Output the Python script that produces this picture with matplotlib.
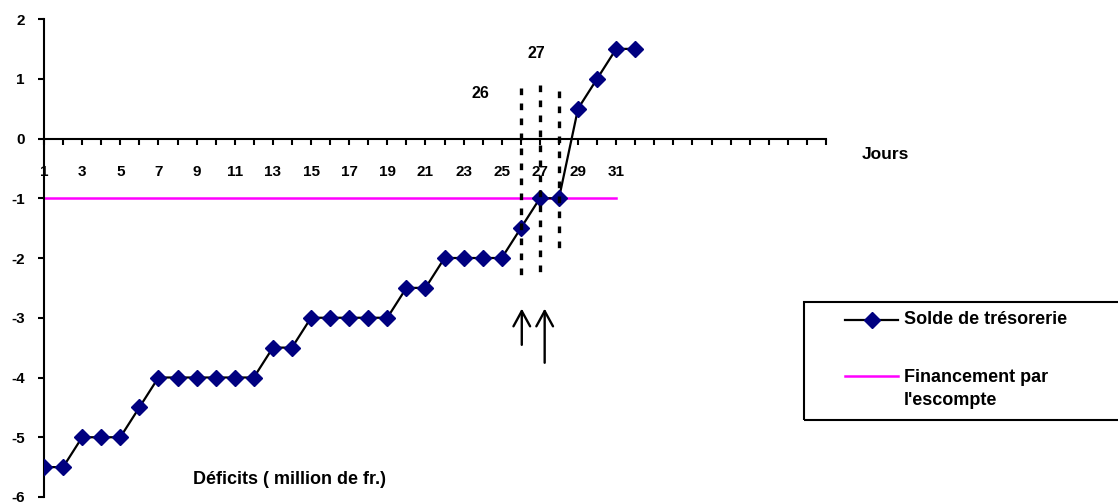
import matplotlib
matplotlib.use('Agg')
import matplotlib.pyplot as plt
from matplotlib.lines import Line2D
from matplotlib.patches import Rectangle

plt.rcParams['font.family'] = ['Liberation Sans', 'DejaVu Sans']
plt.rcParams['font.weight'] = 'bold'
plt.rcParams['axes.unicode_minus'] = False

# Data
days = list(range(1, 33))
solde = [-5.5, -5.5, -5, -5, -5, -4.5, -4, -4, -4, -4, -4, -4, -3.5, -3.5,
         -3, -3, -3, -3, -3, -2.5, -2.5, -2, -2, -2, -2, -1.5, -1, -1,
         0.5, 1, 1.5, 1.5]
fin_days = list(range(1, 32))
financement = [-1] * 31
x_ticks = list(range(1, 43))
x_labels = [str(d) if (d % 2 == 1 and d <= 31) else '' for d in x_ticks]
y_ticks = [-6, -5, -4, -3, -2, -1, 0, 1, 2]
series_names = ['Solde de trésorerie', "Financement par\nl'escompte"]

W, H = 1118, 504
fig = plt.figure(figsize=(W / 100, H / 100), dpi=100)
ax = fig.add_axes([44 / W, 7 / H, (826 - 44) / W, (497 - 19) / H])

line_kw = dict(color='black', lw=1.6, marker='D', ms=8.5, mfc='#000080', mec='#000080')
fin_kw = dict(color='#FF00FF', lw=1.8)
ax.plot(fin_days, financement, zorder=2, **fin_kw)
ax.plot(days, solde, zorder=3, **line_kw)

# dotted guides around days 26-28
dots = dict(color='black', lw=2.4, ls=(0, (2, 2.5)), zorder=4)
ax.plot([26, 26], [0.84, -2.35], **dots)
ax.plot([27, 27], [0.89, -2.3], **dots)
ax.plot([28, 28], [0.79, -1.9], **dots)
ax.text(23.9, 0.75, '26', ha='center', va='center', fontsize=11.5)
ax.text(26.8, 1.42, '27', ha='center', va='center', fontsize=11.5)

arrow = dict(arrowstyle='->, head_length=1.1, head_width=0.6', color='black', lw=1.7)
ax.annotate('', xy=(26.05, -2.8), xytext=(26.05, -3.5), arrowprops=arrow)
ax.annotate('', xy=(27.25, -2.8), xytext=(27.25, -3.8), arrowprops=arrow)

ax.text(45.1, -0.27, 'Jours', ha='center', va='center', fontsize=12.5, clip_on=False)
ax.text(13.85, -5.7, 'Déficits ( million de fr.)', ha='center', va='center', fontsize=13)

ax.set_xlim(1, 42)
ax.set_ylim(-6, 2)
ax.spines['bottom'].set_position(('data', 0))
ax.spines['top'].set_visible(False)
ax.spines['right'].set_visible(False)
for s in ('left', 'bottom'):
    ax.spines[s].set_linewidth(1.5)
ax.set_xticks(x_ticks)
ax.set_xticklabels(x_labels)
ax.set_yticks(y_ticks)
ax.tick_params(axis='x', direction='out', length=4, width=1.5, pad=15, labelsize=11)
ax.tick_params(axis='y', direction='out', length=4, width=1.5, pad=10, labelsize=11)

# legend box (drawn by hand to follow the original layout)
def fx(px):
    return px / W

def fy(py):
    return 1 - py / H

fig.add_artist(Rectangle((fx(804), fy(420)), fx(1130) - fx(804), fy(302) - fy(420),
                         transform=fig.transFigure, fill=False, ec='black', lw=1.5))
fig.add_artist(Line2D([fx(845), fx(898)], [fy(320), fy(320)], transform=fig.transFigure,
                      color='black', lw=1.6))
fig.add_artist(Line2D([fx(871.5)], [fy(320)], transform=fig.transFigure, ls='none',
                      marker='D', ms=8.5, mfc='#000080', mec='#000080'))
fig.add_artist(Line2D([fx(845), fx(898)], [fy(376), fy(376)], transform=fig.transFigure,
                      **fin_kw))
fig.text(fx(904), fy(320), series_names[0], ha='left', va='center', fontsize=13)
fig.text(fx(904), fy(389), series_names[1], ha='left', va='center', fontsize=13,
         linespacing=1.45)

fig.savefig('out.png', dpi=100)
